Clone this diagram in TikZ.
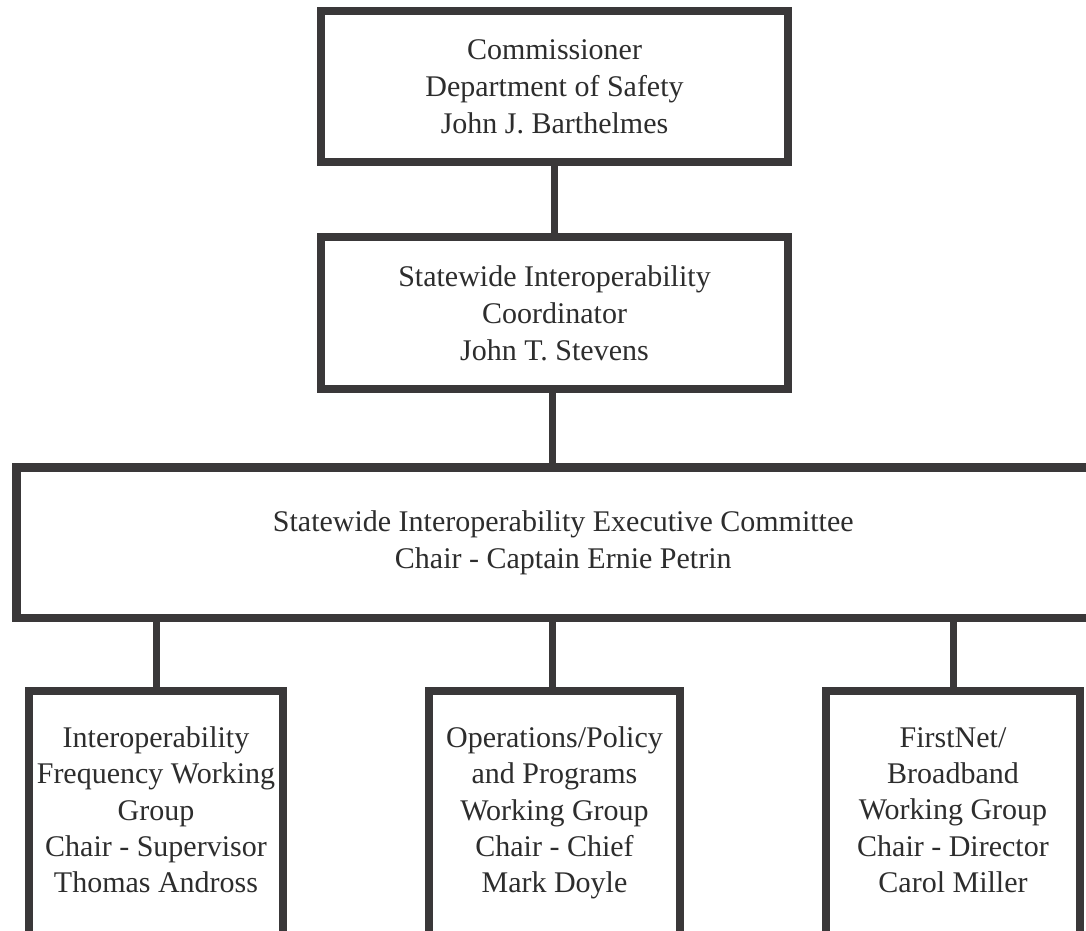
\documentclass[tikz,border=0pt]{standalone}
\usepackage{fontspec}
\setmainfont{Liberation Serif}
\definecolor{ln}{RGB}{58,56,57}
\definecolor{tx}{RGB}{45,45,45}
\begin{document}
\begin{tikzpicture}[x=1pt,y=-1pt,
  box/.style={draw=ln, line width=8.5pt, fill=white, inner sep=0pt, align=center, text=tx,
              font=\fontsize{30}{37}\selectfont},
  txt/.style={inner sep=0pt, align=center, text=tx, font=\fontsize{30}{36.3}\selectfont},
  conn/.style={draw=ln, line width=7pt}]
\useasboundingbox (0,0) rectangle (1086,930);
\clip (0,0) rectangle (1086,930);
% boxes
\node[box, minimum width=467pt, minimum height=151pt] (comm) at (554.5,86.5)
  {Commissioner\\Department of Safety\\John J. Barthelmes};
\node[box, minimum width=467pt, minimum height=152pt] (coord) at (554.5,313)
  {Statewide Interoperability\\Coordinator\\John T. Stevens};
\node[box, minimum width=1093.5pt, minimum height=150.5pt] (exec) at (563.25,542.75)
  {Statewide Interoperability Executive Committee\\Chair - Captain Ernie Petrin};
\node[box, minimum width=254pt, minimum height=309pt] (wg1) at (156,845.5) {};
\node[box, minimum width=251pt, minimum height=309pt] (wg2) at (554.5,845.5) {};
\node[box, minimum width=254pt, minimum height=309pt] (wg3) at (953,845.5) {};
% texts of the working groups
\node[txt] (t1) at (156,810) {Interoperability\\Frequency Working\\Group\\Chair - Supervisor\\Thomas Andross};
\node[txt] (t2) at (554.5,813) {Operations/Policy\\and Programs\\Working Group\\Chair - Chief\\Mark Doyle};
\node[txt] (t3) at (953,810) {FirstNet/\\Broadband\\Working Group\\Chair - Director\\Carol Miller};
% connectors
\draw[conn] (comm.south) -- (coord.north);
\draw[conn] ([xshift=-2.5pt]coord.south) -- ([xshift=-2.5pt]coord.south |- exec.north);
\draw[conn] (exec.south -| wg1.north) -- (wg1.north);
\draw[conn] ([xshift=-2.5pt]exec.south -| wg2.north) -- ([xshift=-2.5pt]wg2.north);
\draw[conn] (exec.south -| wg3.north) -- (wg3.north);
\end{tikzpicture}
\end{document}
